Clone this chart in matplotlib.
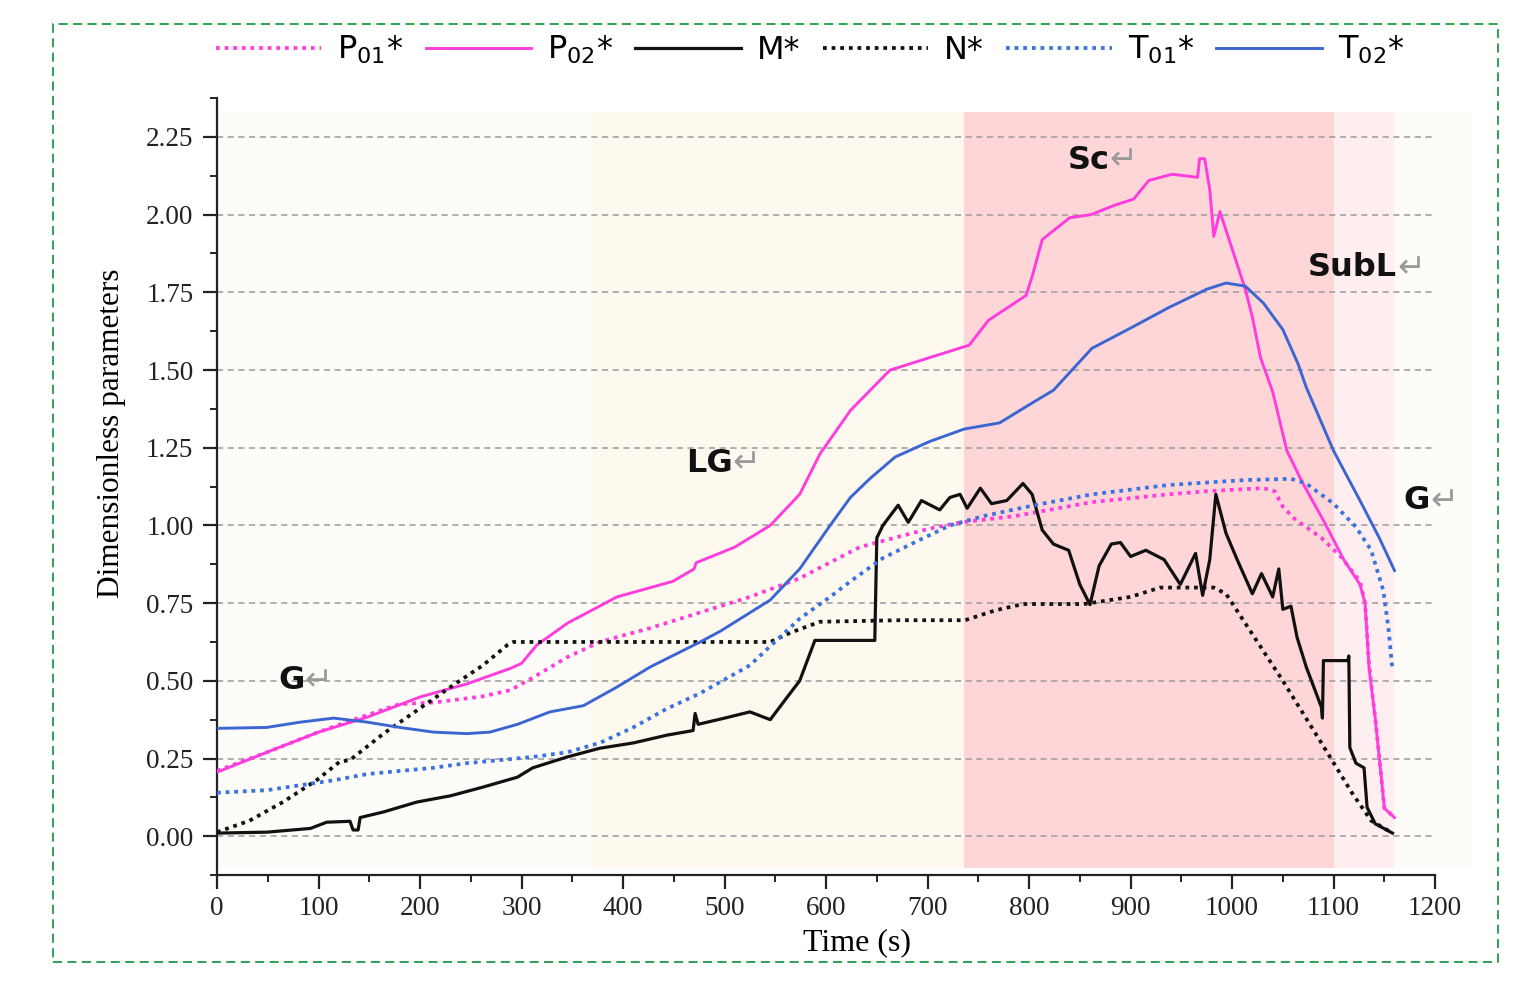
import numpy as np
import matplotlib.pyplot as plt
from matplotlib.patches import Rectangle
from matplotlib.ticker import MultipleLocator

# time (s) / value pairs
p01_t = [0, 49, 100, 148, 180, 213, 262, 289, 311, 345, 377, 427, 476, 525, 574, 633, 673, 702,
         733, 786, 862, 937, 975, 1031, 1042, 1050, 1062, 1088, 1107, 1126, 1131, 1135, 1141,
         1147, 1150, 1160]
p01_v = [0.21, 0.27, 0.335, 0.39, 0.425, 0.43, 0.45, 0.47, 0.51, 0.576, 0.625, 0.67, 0.72, 0.77,
         0.83, 0.93, 0.965, 0.99, 1.01, 1.03, 1.075, 1.10, 1.11, 1.12, 1.11, 1.06, 1.02, 0.96,
         0.90, 0.82, 0.75, 0.55, 0.38, 0.19, 0.09, 0.06]

p02_t = [0, 49, 100, 148, 200, 246, 289, 300, 315, 345, 394, 449, 470, 472, 510, 545, 574, 594,
         624, 663, 673, 702, 741, 760, 797, 803, 813, 840, 861, 884, 903, 918, 941, 966, 968, 973,
         978, 982, 988, 997, 1005, 1013, 1020, 1028, 1040, 1054, 1069, 1091, 1110, 1126, 1131,
         1135, 1141, 1147, 1150, 1160]
p02_v = [0.206, 0.27, 0.335, 0.383, 0.448, 0.49, 0.54, 0.556, 0.615, 0.685, 0.77, 0.82, 0.86,
         0.88, 0.93, 1.00, 1.10, 1.23, 1.37, 1.50, 1.51, 1.54, 1.58, 1.66, 1.74, 1.80, 1.92, 1.99,
         2.00, 2.03, 2.05, 2.11, 2.13, 2.12, 2.18, 2.18, 2.08, 1.93, 2.01, 1.92, 1.84, 1.76, 1.67,
         1.54, 1.43, 1.24, 1.14, 1.01, 0.89, 0.81, 0.75, 0.54, 0.38, 0.19, 0.09, 0.06]

m_t = [0, 49, 92, 108, 131, 134, 139, 141, 164, 197, 230, 262, 296, 311, 345, 377, 410, 443, 469,
       471, 474, 500, 525, 545, 560, 574, 589, 648, 650, 656, 671, 681, 694, 712, 722, 732, 739,
       752, 763, 778, 794, 803, 813, 824, 839, 850, 860, 869, 881, 890, 900, 915, 933, 949, 964,
       971, 978, 984, 994, 1005, 1020, 1029, 1040, 1046, 1050, 1058, 1064, 1073, 1088, 1089, 1090,
       1114, 1115, 1116, 1122, 1130, 1133, 1141, 1158]
m_v = [0.01, 0.013, 0.025, 0.045, 0.048, 0.02, 0.02, 0.06, 0.078, 0.11, 0.13, 0.158, 0.19, 0.22,
       0.255, 0.283, 0.30, 0.325, 0.34, 0.395, 0.36, 0.38, 0.40, 0.375, 0.44, 0.50, 0.63, 0.63,
       0.96, 1.00, 1.065, 1.01, 1.08, 1.05, 1.09, 1.10, 1.055, 1.12, 1.07, 1.08, 1.135, 1.10,
       0.985, 0.94, 0.92, 0.81, 0.745, 0.87, 0.94, 0.945, 0.90, 0.92, 0.89, 0.81, 0.91, 0.775,
       0.89, 1.10, 0.975, 0.89, 0.78, 0.845, 0.77, 0.86, 0.73, 0.74, 0.64, 0.545, 0.415, 0.38,
       0.565, 0.565, 0.58, 0.285, 0.235, 0.22, 0.093, 0.04, 0.01]

n_t = [0, 32, 65, 98, 121, 131, 164, 197, 230, 262, 286, 292, 545, 565, 594, 673, 737, 767, 794,
       854, 900, 929, 982, 994, 1013, 1050, 1088, 1118, 1137, 1158]
n_v = [0.013, 0.05, 0.11, 0.18, 0.24, 0.245, 0.33, 0.405, 0.48, 0.55, 0.615, 0.625, 0.625, 0.655,
       0.69, 0.695, 0.695, 0.727, 0.747, 0.747, 0.77, 0.80, 0.80, 0.78, 0.685, 0.50, 0.30, 0.14,
       0.05, 0.01]

t01_t = [0, 49, 82, 115, 148, 180, 213, 246, 279, 311, 345, 377, 410, 443, 476, 525, 574, 604,
         624, 656, 690, 722, 755, 805, 862, 937, 1013, 1058, 1073, 1100, 1122, 1137, 1149, 1154,
         1158]
t01_v = [0.14, 0.148, 0.164, 0.18, 0.20, 0.21, 0.22, 0.235, 0.245, 0.255, 0.27, 0.30, 0.35, 0.41,
         0.46, 0.55, 0.70, 0.77, 0.82, 0.895, 0.95, 1.00, 1.03, 1.065, 1.10, 1.13, 1.146, 1.15,
         1.135, 1.07, 0.995, 0.92, 0.79, 0.67, 0.535]

t02_t = [0, 49, 82, 115, 148, 180, 213, 246, 269, 296, 328, 361, 394, 427, 476, 496, 545, 574,
         604, 624, 643, 668, 702, 736, 771, 801, 824, 862, 900, 937, 975, 994, 1013, 1031, 1050,
         1065, 1073, 1100, 1126, 1145, 1160]
t02_v = [0.347, 0.35, 0.367, 0.38, 0.367, 0.35, 0.335, 0.33, 0.335, 0.36, 0.40, 0.42, 0.48, 0.545,
         0.625, 0.66, 0.76, 0.86, 1.00, 1.09, 1.15, 1.22, 1.27, 1.31, 1.33, 1.39, 1.435, 1.57,
         1.635, 1.70, 1.76, 1.78, 1.77, 1.715, 1.63, 1.52, 1.445, 1.24, 1.08, 0.96, 0.855]

# flow regime bands and annotations
band_edges = [0, 369, 736, 1100, 1160, 1236]
band_colors = ['#fefcf8', '#fef9ee', '#ffd6d8', '#ffeef0', '#fefcf8']
regime_labels = ['G', 'LG', 'Sc', 'SubL', 'G']
regime_pos = [(60, 0.50), (462, 1.20), (838, 2.175), (1075, 1.83), (1169, 1.08)]

MAG = '#ff3ddc'
BLUE = '#3a72e0'
BLUE2 = '#3b66d2'
DOT = (0, (1, 1.3))

fig = plt.figure(figsize=(15.37, 9.81), dpi=100)
ax = fig.add_axes([0.1412, 0.108, 0.7925, 0.792])

for i, c in enumerate(band_colors):
    ax.add_patch(Rectangle((band_edges[i], -0.103), band_edges[i + 1] - band_edges[i], 2.433,
                           facecolor=c, edgecolor='none', zorder=0.1, clip_on=False))

ax.plot(p01_t, p01_v, color=MAG, lw=2.7, ls=DOT, label='P$_{01}$*', zorder=3)
ax.plot(p02_t, p02_v, color=MAG, lw=2.1, label='P$_{02}$*', zorder=3)
ax.plot(m_t, m_v, color='#111111', lw=2.3, label='M*', zorder=3)
ax.plot(n_t, n_v, color='#111111', lw=2.7, ls=DOT, label='N*', zorder=3)
ax.plot(t01_t, t01_v, color=BLUE, lw=2.7, ls=DOT, label='T$_{01}$*', zorder=3)
ax.plot(t02_t, t02_v, color=BLUE2, lw=2.1, label='T$_{02}$*', zorder=3)

for lab, (tx, ty) in zip(regime_labels, regime_pos):
    txt = ax.text(tx, ty, lab, fontsize=23, fontweight='bold', color='#111111',
                  va='center', ha='left', zorder=4)
    ax.annotate('\u21b5', xy=(1, 0.5), xycoords=txt, va='center', ha='left',
                fontsize=24, color='#9a9a9a', zorder=4)

ax.set_xlim(0, 1200)
ax.set_ylim(-0.125, 2.375)
ax.xaxis.set_major_locator(MultipleLocator(100))
ax.xaxis.set_minor_locator(MultipleLocator(50))
ax.yaxis.set_major_locator(MultipleLocator(0.25))
ax.yaxis.set_minor_locator(MultipleLocator(0.125))
ax.yaxis.set_major_formatter(plt.FuncFormatter(lambda v, p: f'{v:.2f}'))

ax.set_axisbelow(True)
ax.grid(axis='y', which='major', color='#9a9a9a', ls=(0, (4, 3)), lw=1.1, zorder=0.5)

for s in ['top', 'right']:
    ax.spines[s].set_visible(False)
for s in ['left', 'bottom']:
    ax.spines[s].set_linewidth(1.6)
    ax.spines[s].set_color('#222222')

ax.tick_params(which='major', length=10, width=1.6, color='#222222')
ax.tick_params(which='minor', length=5, width=1.4, color='#222222')
ax.tick_params(axis='y', pad=7)
ax.tick_params(axis='x', pad=5)
for lbl in ax.get_xticklabels() + ax.get_yticklabels():
    lbl.set_fontfamily('Liberation Serif')
    lbl.set_fontsize(19.5)
    lbl.set_color('#222222')

ax.set_xlabel('Time (s)', fontfamily='Liberation Serif', fontsize=23)
ax.set_ylabel('Dimensionless parameters', fontfamily='Liberation Serif', fontsize=22.5)
ax.xaxis.set_label_coords(0.525, -0.068)
ax.yaxis.set_label_coords(-0.075, 0.569)

fig.legend(loc='center', bbox_to_anchor=(810 / 1537, 1 - 50 / 981), ncol=6, frameon=False,
           fontsize=23, handlelength=3.3, handletextpad=0.5, columnspacing=0.7)

fig.patches.append(Rectangle((53 / 1537, 1 - 962 / 981), 1445 / 1537, 938 / 981,
                             transform=fig.transFigure, fill=False, edgecolor='#1e9a45',
                             lw=1.3, ls=(0, (5, 3))))

plt.savefig('out.png')
